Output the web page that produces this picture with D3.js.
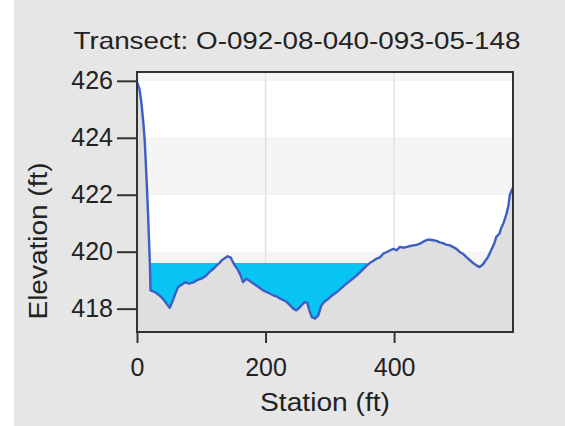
<!DOCTYPE html>
<html>
<head>
<meta charset="utf-8">
<script src="https://cdn.jsdelivr.net/npm/d3@7"></script>
<style>
  body { margin: 0; background: #e6e6e6; }
  #chart { width: 565px; height: 426px; }
  text { font-family: "Liberation Sans", Arial, sans-serif; fill: #222; }
</style>
</head>
<body>
<div id="chart"></div>
<script>
const station = [0, 4, 7, 10, 12, 15, 17.6, 20, 21, 28, 33, 38, 42, 46, 51, 56, 60, 64, 70, 75,
  81, 88, 95, 100, 107, 113, 119, 124, 128, 132, 137, 141, 146, 149, 152, 156, 160, 165, 170, 175,
  181, 188, 196, 204, 212, 218, 223, 228, 233, 238, 243, 248, 252, 256, 261, 265, 268, 272, 277, 282,
  287, 292, 298, 304, 311, 318, 326, 334, 342, 348, 355, 362, 368, 373, 378, 383, 388, 394, 399, 404,
  409, 414, 420, 425, 430, 435, 440, 444, 448, 452, 456, 461, 466, 471, 476, 481, 487, 492, 497, 502,
  507, 513, 518, 523, 528, 533, 538, 542, 546, 549, 552, 556, 559, 564, 567, 570, 575, 578, 580, 583, 585];
const elevation = [425.96, 425.7, 425.2, 424.5, 423.9, 422.5, 421.1, 419.6, 418.64, 418.58, 418.5, 418.4, 418.3, 418.17, 418.03, 418.3, 418.55, 418.76, 418.85, 418.93,
  418.88, 418.92, 419.02, 419.05, 419.15, 419.29, 419.4, 419.52, 419.6, 419.7, 419.78, 419.84, 419.79, 419.65, 419.52, 419.4, 419.23, 418.93, 419.05, 418.98,
  418.88, 418.78, 418.64, 418.56, 418.47, 418.42, 418.35, 418.3, 418.23, 418.12, 418.0, 417.94, 418.02, 418.12, 418.23, 418.2, 417.95, 417.7, 417.65, 417.76,
  418.12, 418.25, 418.35, 418.47, 418.58, 418.72, 418.88, 419.02, 419.17, 419.3, 419.46, 419.6, 419.68, 419.76, 419.8, 419.93, 419.98, 420.05, 420.1, 420.05,
  420.17, 420.14, 420.17, 420.2, 420.22, 420.24, 420.28, 420.33, 420.38, 420.42, 420.42, 420.4, 420.38, 420.33, 420.3, 420.25, 420.22, 420.16, 420.1, 419.99,
  419.93, 419.8, 419.7, 419.6, 419.52, 419.46, 419.55, 419.68, 419.81, 419.95, 420.1, 420.3, 420.52, 420.64, 420.85, 420.99, 421.34, 421.63, 421.98, 422.16, 422.25];
const waterLevel = 419.6;
const waterExtent = [0, 370];
const xTicks = [0, 200, 400];
const yTicks = [418, 420, 422, 424, 426];

const width = 565;
const height = 426;
const plot = { left: 137, right: 513, top: 72, bottom: 332 };

const data = station.map((s, i) => ({ s: s, e: elevation[i] }));

const svg = d3.select("#chart")
  .append("svg")
  .attr("width", width)
  .attr("height", height);

// white strip on the left edge
svg.append("rect").attr("x", 0).attr("y", 0).attr("width", 14).attr("height", height).attr("fill", "#ffffff");

const x = d3.scaleLinear().domain([0, 585]).range([plot.left, plot.right]);
const y = d3.scaleLinear().domain([417.18, 426.31]).range([plot.bottom, plot.top]);

// striped background bands
const bandEdges = [y.domain()[0], ...yTicks, y.domain()[1]];
const bands = d3.pairs(bandEdges);
svg.append("g")
  .selectAll("rect")
  .data(bands)
  .join("rect")
  .attr("x", plot.left)
  .attr("width", plot.right - plot.left)
  .attr("y", d => y(d[1]))
  .attr("height", d => y(d[0]) - y(d[1]))
  .attr("fill", (d, i) => i % 2 === 0 ? "#ffffff" : "#f5f5f5");

// gridlines
svg.append("g")
  .selectAll("line")
  .data(xTicks.slice(1))
  .join("line")
  .attr("x1", d => x(d))
  .attr("x2", d => x(d))
  .attr("y1", plot.top)
  .attr("y2", plot.bottom)
  .attr("stroke", "#e0e0e0")
  .attr("stroke-width", 1.5);

// water
const waterArea = d3.area()
  .x(d => x(d.s))
  .y0(y(waterLevel))
  .y1(d => y(Math.min(d.e, waterLevel)));

svg.append("path")
  .datum(data.filter(d => d.s >= waterExtent[0] && d.s <= waterExtent[1]))
  .attr("d", waterArea)
  .attr("fill", "#08c4f4");

// ground
const groundArea = d3.area()
  .x(d => x(d.s))
  .y0(plot.bottom)
  .y1(d => y(d.e));

svg.append("path")
  .datum(data)
  .attr("d", groundArea)
  .attr("fill", "#dfdfdf");

// profile line
svg.append("path")
  .datum(data)
  .attr("d", d3.line().x(d => x(d.s)).y(d => y(d.e)))
  .attr("fill", "none")
  .attr("stroke", "#3d5ec4")
  .attr("stroke-width", 2.4)
  .attr("stroke-linejoin", "round");

// frame
svg.append("rect")
  .attr("x", plot.left)
  .attr("y", plot.top)
  .attr("width", plot.right - plot.left)
  .attr("height", plot.bottom - plot.top)
  .attr("fill", "none")
  .attr("stroke", "#333")
  .attr("stroke-width", 2);

// axes
const xAxis = svg.append("g")
  .attr("transform", `translate(0,${plot.bottom})`)
  .call(d3.axisBottom(x).tickValues(xTicks).tickSize(11).tickPadding(15).tickFormat(d3.format("d")));

const yAxis = svg.append("g")
  .attr("transform", `translate(${plot.left},0)`)
  .call(d3.axisLeft(y).tickValues(yTicks).tickSize(20).tickPadding(4).tickFormat(d3.format("d")));

[xAxis, yAxis].forEach(a => {
  a.select(".domain").remove();
  a.selectAll("line").attr("stroke", "#333").attr("stroke-width", 2);
  a.selectAll("text").style("font-size", "25px").attr("fill", "#222");
});

svg.append("text")
  .attr("x", 297)
  .attr("y", 49)
  .attr("text-anchor", "middle")
  .attr("textLength", 447)
  .attr("lengthAdjust", "spacingAndGlyphs")
  .style("font-size", "24px")
  .text("Transect: O-092-08-040-093-05-148");

svg.append("text")
  .attr("x", (plot.left + plot.right) / 2)
  .attr("y", 411)
  .attr("text-anchor", "middle")
  .attr("textLength", 130)
  .attr("lengthAdjust", "spacingAndGlyphs")
  .style("font-size", "25px")
  .text("Station (ft)");

svg.append("text")
  .attr("transform", "rotate(-90)")
  .attr("x", -241)
  .attr("y", 47)
  .attr("text-anchor", "middle")
  .attr("textLength", 157)
  .attr("lengthAdjust", "spacingAndGlyphs")
  .style("font-size", "25px")
  .text("Elevation (ft)");
</script>
</body>
</html>
